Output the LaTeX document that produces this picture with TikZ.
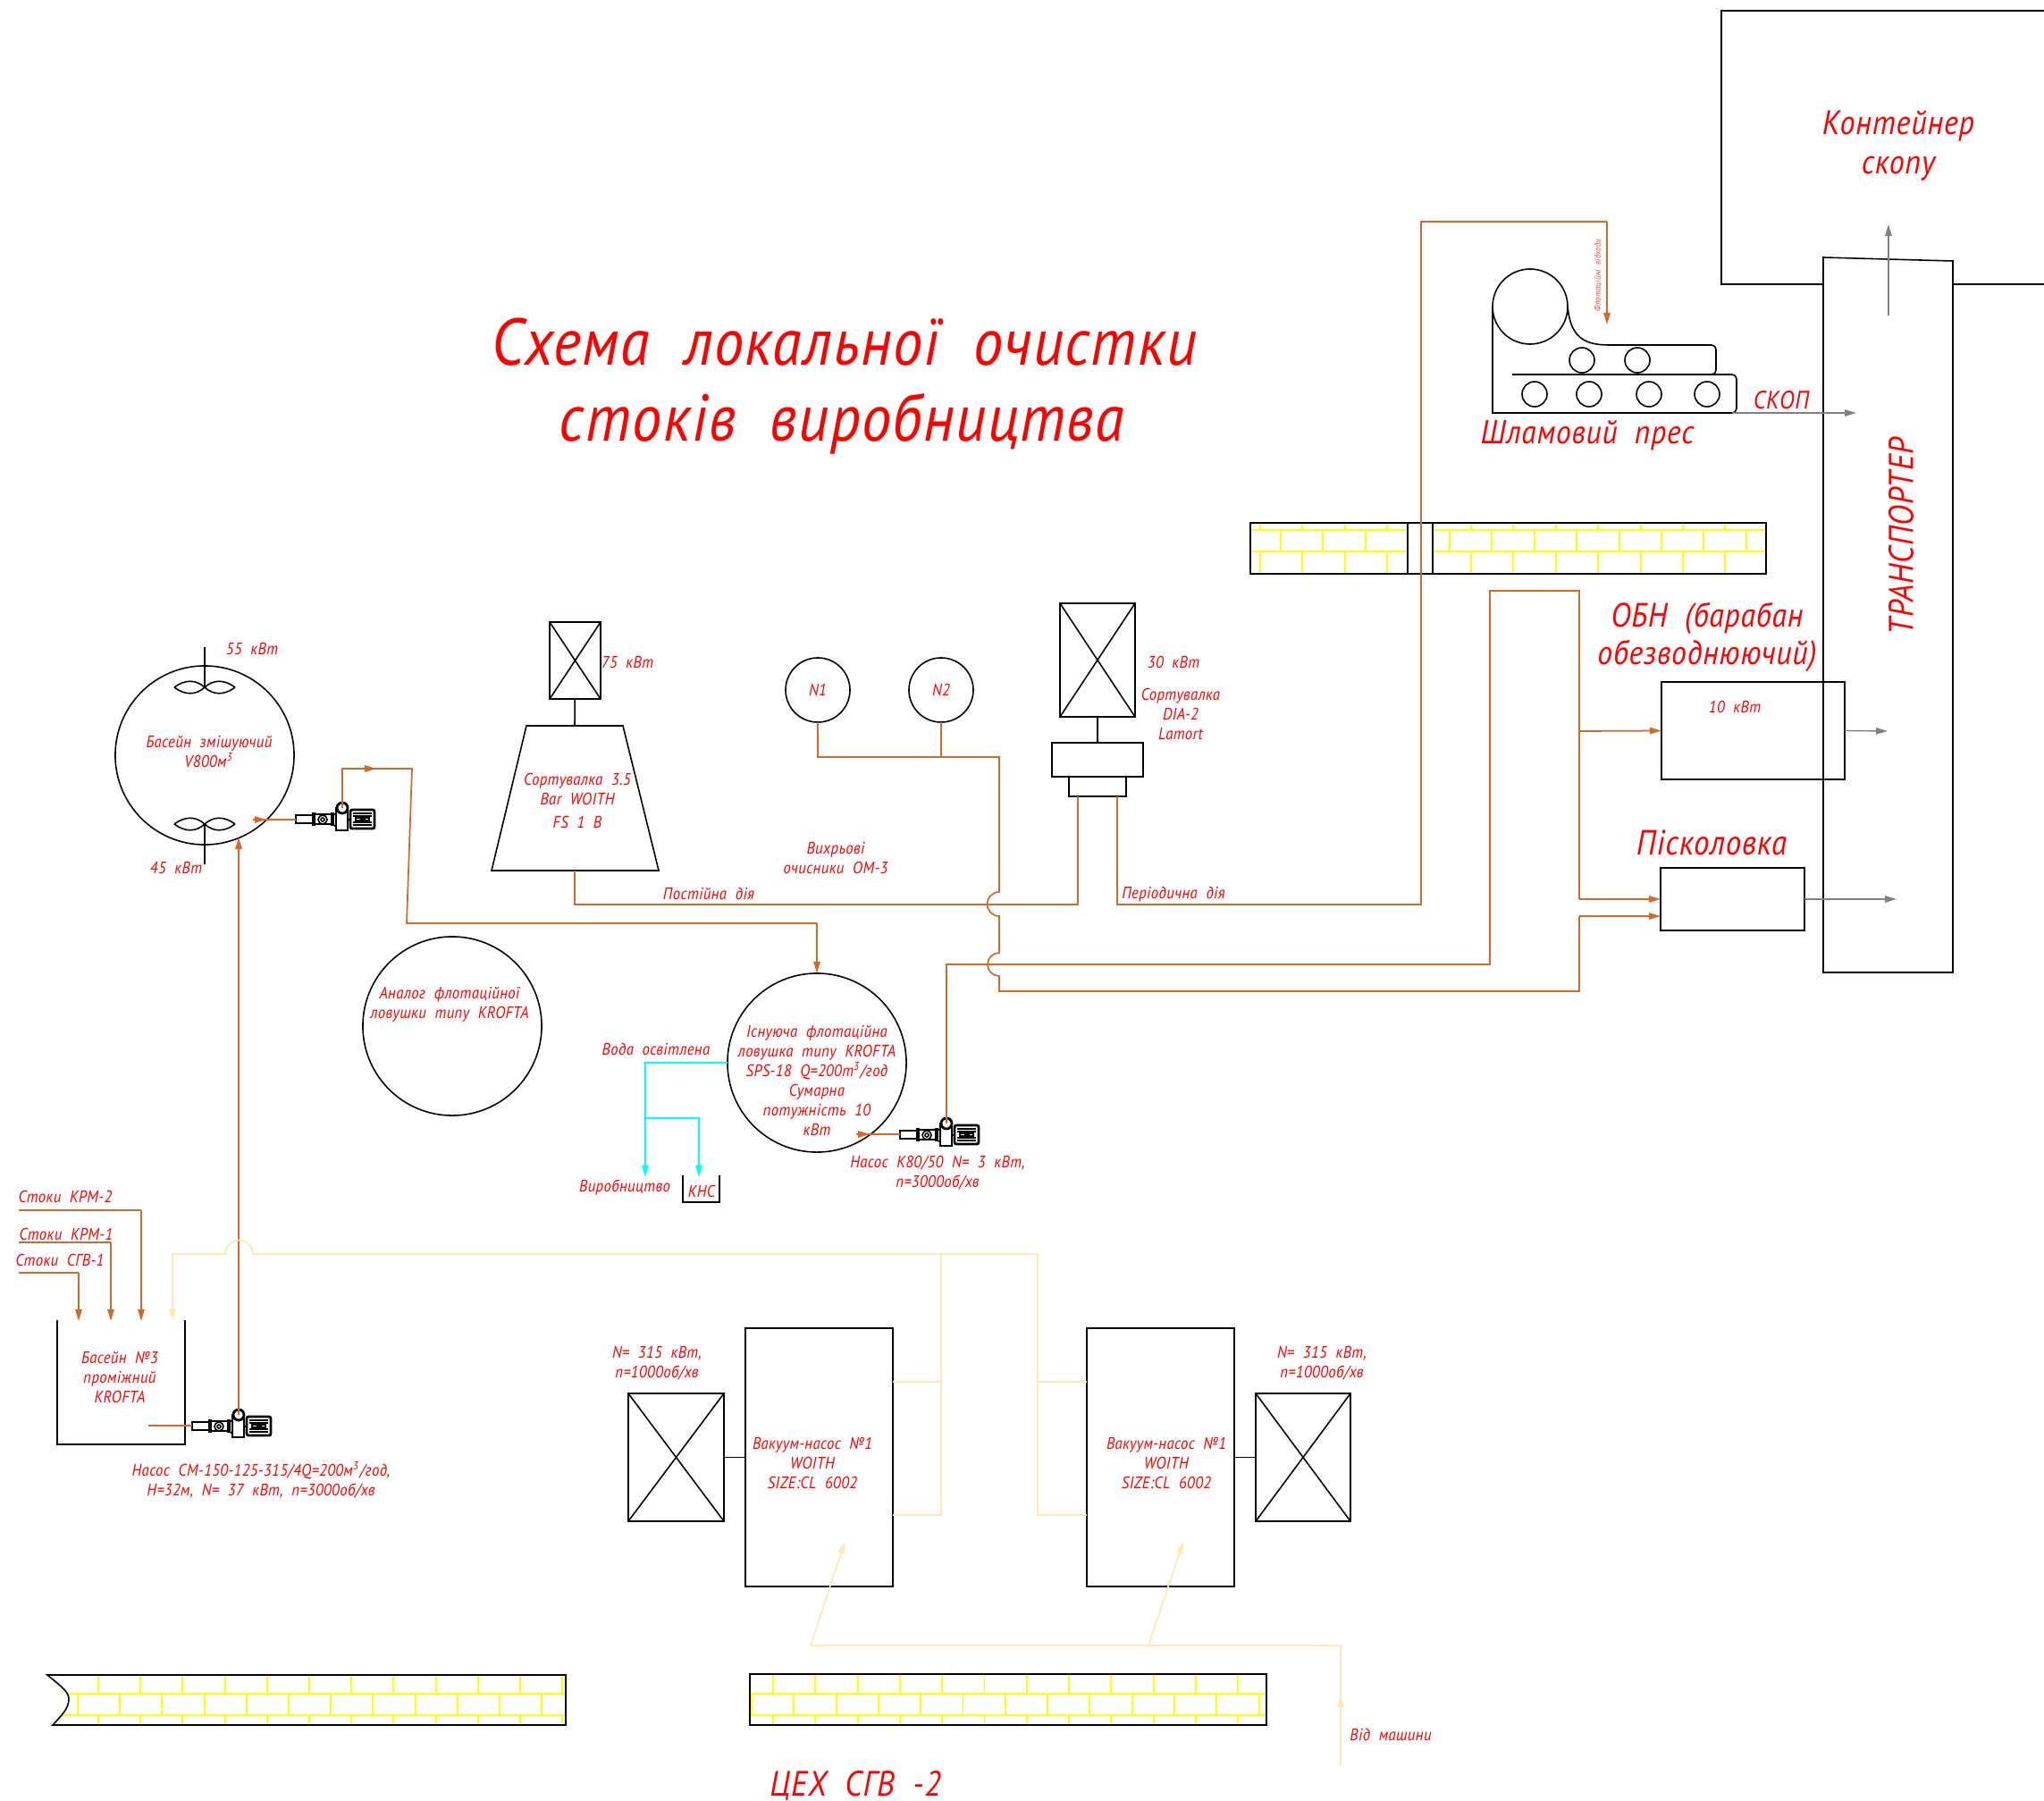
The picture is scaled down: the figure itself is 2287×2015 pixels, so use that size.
\documentclass[tikz,border=0pt]{standalone}
\usepackage{fontspec}
\setmainfont[LetterSpace=2,WordSpace=2,FakeStretch=.9]{PT Sans}
\usetikzlibrary{arrows.meta}
\definecolor{pipeor}{RGB}{210,105,45}
\definecolor{pipecr}{RGB}{255,232,180}
\definecolor{clearcy}{RGB}{0,255,255}
\definecolor{brickyl}{RGB}{255,255,0}
\tikzset{
	lbl/.style={text=red, inner sep=0pt, align=center, font=\itshape\fontsize{#1}{\the\dimexpr#1pt*118/100\relax}\selectfont},
	lbl/.default=5.3,
	blk/.style={line width=.45pt, draw=black},
	vessel/.style={blk, circle, inner sep=0pt, outer sep=0pt},
	unit/.style={blk, rectangle, inner sep=0pt, outer sep=0pt},
	pipe/.style={line width=.5pt, draw=pipeor},
	creamp/.style={line width=.5pt, draw=pipecr},
	clearw/.style={line width=.5pt, draw=clearcy},
	outp/.style={line width=.4pt, draw=gray},
	arr/.style={-{Triangle[length=3.7pt,width=2.1pt]}},
	brick/.style={line width=.55pt, draw=brickyl},
	pump/.pic={
		\draw[blk, fill=white] (-52,8) rectangle (-32,17);
		\draw[line width=.9pt] (-32,5) -- (-32,20) (-11,5) -- (-11,20);
		\draw[blk] (-32,7) rectangle (-11,18);
		\draw[blk] (-22,13) circle (5);
		\draw[blk] (-22,13) circle (2);
		\draw[blk] (-11,8) -- (-7,6) (-11,18) -- (-7,21);
		\draw[blk, fill=white] (-7,0) rectangle (6,25);
		\draw[line width=.8pt, fill=white] (0,0) circle (6);
		\draw[blk] (6,13) -- (9,13);
		\draw[line width=.8pt, rounded corners=.6pt] (9,2) rectangle (36,23);
		\foreach \ys in {6,9,16,19} \draw[blk] (12,\ys) -- (33,\ys);
		\draw[blk] (15,11) rectangle (30,14);
		\draw[fill=black] (21,11.5) rectangle (25,13.5);
	},
	paddle/.pic={
		\draw[blk] (-34,0) .. controls (-22,-9) and (-10,-9) .. (0,0) .. controls (-10,9) and (-22,9) .. (-34,0);
		\draw[blk] (34,0) .. controls (22,-9) and (10,-9) .. (0,0) .. controls (10,9) and (22,9) .. (34,0);
	},
}
\begin{document}
\begin{tikzpicture}[x=.01cm,y=-.01cm]
	\useasboundingbox (0,0) rectangle (2287,2015);
	%%%%% WALLS %%%%%
	\begin{scope}
		\clip (1399,585) rectangle (1575,642);
		\draw[brick] (1399,593) -- (1575,593) (1399,617) -- (1575,617);
		\foreach \xb in {0,...,3} {
			\draw[brick] ({1410+47.4*\xb},585) -- ++(0,8) ({1410+47.4*\xb},617) -- ++(0,25);
			\draw[brick] ({1433+47.4*\xb},593) -- ++(0,24);
		}
	\end{scope}
	\begin{scope}
		\clip (1603,585) rectangle (1976,642);
		\draw[brick] (1603,593) -- (1976,593) (1603,617) -- (1976,617);
		\foreach \xb in {0,...,7} {
			\draw[brick] ({1646+47.4*\xb},585) -- ++(0,8) ({1646+47.4*\xb},617) -- ++(0,25);
			\draw[brick] ({1622+47.4*\xb},593) -- ++(0,24);
		}
	\end{scope}
	\draw[blk] (1399,585) rectangle (1976,642);
	\draw[blk] (1575,585) -- (1575,642) (1603,585) -- (1603,642);
	\begin{scope}
		\clip (53,1874) .. controls (70,1888) and (77,1893) .. (77,1901) .. controls (77,1912) and (68,1920) .. (59,1930) -- (633,1930) -- (633,1874) -- cycle;
		\draw[brick] (53,1895) -- (633,1895) (53,1919) -- (633,1919);
		\foreach \xb in {0,...,11} {
			\draw[brick] ({110+47.2*\xb},1874) -- ++(0,21) ({110+47.2*\xb},1919) -- ++(0,11);
			\draw[brick] ({87+47.2*\xb},1895) -- ++(0,24);
		}
	\end{scope}
	\draw[blk] (53,1874) .. controls (70,1888) and (77,1893) .. (77,1901) .. controls (77,1912) and (68,1920) .. (59,1930) -- (633,1930) -- (633,1874) -- cycle;
	\begin{scope}
		\clip (839,1873) rectangle (1417,1930);
		\draw[brick] (839,1895) -- (1417,1895) (839,1919) -- (1417,1919);
		\foreach \xb in {0,...,12} {
			\draw[brick] ({865+47.3*\xb},1873) -- ++(0,22) ({865+47.3*\xb},1919) -- ++(0,11);
			\draw[brick] ({841+47.3*\xb},1895) -- ++(0,24);
		}
	\end{scope}
	\draw[blk] (839,1873) rectangle (1417,1930);
	%%%%% EQUIPMENT %%%%%
	\node[vessel, minimum size=2cm] (mixer) at (229,845) {};
	\node[vessel, minimum size=2cm] (flotA) at (506,1148) {};
	\node[vessel, minimum size=2cm] (flotB) at (914,1189) {};
	\node[vessel, minimum size=.72cm, lbl] (nOne) at (915,772) {N1};
	\node[vessel, minimum size=.72cm, lbl] (nTwo) at (1053,772) {N2};
	\node[unit, minimum width=1.65cm, minimum height=2.89cm] (vacA) at (916.5,1630.5) {};
	\node[unit, minimum width=1.65cm, minimum height=2.89cm] (vacB) at (1298.5,1630.5) {};
	\node[unit, minimum width=1.07cm, minimum height=1.43cm] (motA) at (756.5,1630.5) {};
	\node[unit, minimum width=1.06cm, minimum height=1.43cm] (motB) at (1458,1630.5) {};
	\node[unit, minimum width=.57cm, minimum height=.86cm] (driveA) at (643.5,739) {};
	\node[unit, minimum width=.84cm, minimum height=1.27cm] (driveB) at (1228,738.5) {};
	\node[unit, minimum width=1.02cm, minimum height=.38cm] (sortHead) at (1228,850) {};
	\node[unit, minimum width=.64cm, minimum height=.22cm] (sortBase) at (1228,880) {};
	\node[unit, minimum width=2.05cm, minimum height=1.09cm] (drum) at (1961.5,817.5) {};
	\node[unit, minimum width=1.61cm, minimum height=.70cm] (sand) at (1938.5,1006) {};
	\foreach \boxn in {motA,motB,driveA,driveB} {
		\draw[blk] (\boxn.north west) -- (\boxn.south east) (\boxn.north east) -- (\boxn.south west);
	}
	\draw[blk] (motA) -- (vacA);
	\draw[blk] (vacB) -- (motB);
	\draw[blk] (driveB) -- (sortHead);
	\coordinate (coneTop) at (643,812);
	\coordinate (coneBot) at (643,974);
	\draw[blk] (driveA) -- (coneTop);
	\draw[blk] (589,812) -- (697,812) -- (737,974) -- (550,974) -- cycle;
	% tank and pit
	\draw[blk] (64,1477) -- (64,1616) -- (207,1616) -- (207,1477);
	\draw[blk] (764,1315) -- (764,1345) -- (805,1345) -- (805,1315);
	% mixer shafts
	\draw[blk] (229,724) -- (229,769) (229,922) -- (229,967);
	\pic at (229,769) {paddle};
	\pic at (229,922) {paddle};
	% press
	\draw[blk] (1712,343) circle (42);
	\draw[blk] (1670,343) -- (1670,462) -- (1800,462);
	\draw[blk, rounded corners=1.4pt] (1800,462) -- (1943,462) -- (1943,419) -- (1692,419);
	\draw[blk] (1754,343) .. controls (1757,375) and (1770,386) .. (1800,386);
	\draw[blk, rounded corners=1.4pt] (1800,386) -- (1920,386) -- (1920,419) -- (1910,419);
	\foreach \xc in {1770,1832} \draw[blk] (\xc,403) circle (14);
	\foreach \xc in {1717,1778,1845,1910} \draw[blk] (\xc,441) circle (14);
	% container and transporter
	\draw[blk] (2287,12) -- (1926,12) -- (1926,318) -- (2040,318);
	\draw[blk] (2185,318) -- (2287,318);
	\draw[blk] (2040,288) -- (2185,292) -- (2185,1088) -- (2040,1088) -- cycle;
	%%%%% PUMPS %%%%%
	\coordinate (holeA) at (383,904);
	\coordinate (holeB) at (1059,1257);
	\coordinate (holeC) at (267,1583);
	\pic at (holeA) {pump};
	\pic at (holeB) {pump};
	\pic at (holeC) {pump};
	%%%%% PIPES %%%%%
	\draw[pipe] (283,917) -- (331,917);
	\draw[pipe, arr] (283,917) -- (298,917);
	\draw[pipe] (holeA) -- (383,860) -- (461,860) -- (455,1033) -- (914,1033);
	\draw[pipe, arr] (383,860) -- (421,860);
	\draw[pipe, arr] (914,1033) -- (flotB.north);
	\draw[pipe] (958,1269) -- (1007,1269);
	\draw[pipe, arr] (958,1269) -- (973,1269);
	\draw[pipe] (holeB) -- (1059,1079) -- (1667,1079) -- (1667,661) -- (1767,661) -- (1767,1006);
	\draw[pipe, arr] (1767,818) -- (drum.west);
	\draw[pipe, arr] (1767,1006) -- (sand.west);
	\draw[pipe] (nOne.south) -- (915,847) -- (1118,847) -- (1118,998)
		arc[start angle=-90, end angle=-270, radius=13.5] -- (1118,1066)
		arc[start angle=-90, end angle=-270, radius=13] -- (1118,1109) -- (1767,1109) -- (1767,1025);
	\draw[pipe, arr] (1767,1025) -- (1858,1025);
	\draw[pipe] (coneBot) -- (643,1012) -- (1206,1012) -- (1206,891);
	\draw[pipe] (1250,891) -- (1250,1012) -- (1590,1012) -- (1590,248) -- (1798,248);
	\draw[pipe, arr] (1798,248) -- (1798,363);
	\draw[pipe] (nTwo.south) -- (1053,847);
	\draw[pipe] (21,1424) -- (88,1424);
	\draw[pipe, arr] (88,1424) -- (88,1478);
	\draw[pipe] (21,1390) -- (124,1390);
	\draw[pipe, arr] (124,1390) -- (124,1478);
	\draw[pipe] (21,1354) -- (158,1354);
	\draw[pipe, arr] (158,1354) -- (158,1478);
	\draw[pipe] (166,1595) -- (215,1595);
	\coordinate (mixIn) at (267,937);
	\draw[pipe, arr] (holeC) -- (mixIn);
	% clarified water
	\coordinate (prodIn) at (722,1317);
	\coordinate (pitIn) at (782,1317);
	\draw[clearw, arr] (flotB.west) -- (722,1189) -- (prodIn);
	\draw[clearw, arr] (722,1251) -- (782,1251) -- (pitIn);
	% vacuum pump water
	\draw[creamp, arr] (1161,1403) -- (283,1403) arc[start angle=0, end angle=-180, radius=15.5] -- (193,1403) -- (193,1477);
	\draw[creamp] (vacB.west |- 0,1695) -- (1161,1695) -- (1161,1403);
	\draw[creamp] (vacB.west |- 0,1546) -- (1161,1546);
	\draw[creamp] (vacA.east |- 0,1695) -- (1053,1695) -- (1053,1403);
	\draw[creamp] (vacA.east |- 0,1546) -- (1053,1546);
	\draw[creamp, arr] (1500,1841) -- (907,1841) -- (945,1725);
	\draw[creamp, arr] (1285,1841) -- (1324,1725);
	\draw[creamp] (1500,1841) -- (1500,1975);
	\draw[creamp, arr] (1500,1975) -- (1500,1897);
	% product
	\draw[outp, arr] (1938,462) -- (2077,462);
	\draw[outp, arr] (drum.east) -- (2112,818);
	\draw[outp, arr] (sand.east) -- (2122,1006);
	\draw[outp, arr] (2113,353) -- (2113,251);
	%%%%% TEXT %%%%%
	\node[lbl=21] (titleA) at (945,383) {Схема локальної очистки};
	\node[lbl=21] (titleB) at (942,474) {стоків виробництва};
	\node[lbl=10.8] (contT) at (2124,163) {Контейнер\\скопу};
	\node[lbl=11, rotate=90] (transT) at (2127,600) {ТРАНСПОРТЕР};
	\node[lbl=10.7] (drumT) at (1910,713) {ОБН (барабан\\[-.7pt]обезводнюючий)};
	\node[lbl=11.1] (sandT) at (1915,943) {Пісколовка};
	\node[lbl=10.6] (pressT) at (1776,487) {Шламовий прес};
	\node[lbl=8] (scopT) at (1993,448) {СКОП};
	\node[lbl=2.8, rotate=90, opacity=.75] (wasteT) at (1788,308) {Флотаційні відходи};
	\node[lbl=11.2] (shopT) at (957,1998) {ЦЕХ СГВ -2};
	\node[lbl] (kwA) at (282,726) {55 кВт};
	\node[lbl] (mixT) at (234,841) {Басейн змішуючий\\V800м\textsuperscript{3}};
	\node[lbl] (kwB) at (197,971) {45 кВт};
	\node[lbl] (kwC) at (702,741) {75 кВт};
	\node[lbl] (sortA) at (646,896) {Сортувалка 3.5\\Bar WOITH\\[1pt]FS 1 B};
	\node[lbl] (lineA) at (793,1000) {Постійна дія};
	\node[lbl] (cycT) at (935,960) {Вихрьові\\очисники ОМ-3};
	\node[lbl] (kwD) at (1313,741) {30 кВт};
	\node[lbl] (sortB) at (1321,799) {Сортувалка\\DIA-2\\Lamort};
	\node[lbl] (lineB) at (1313,1001) {Періодична дія};
	\node[lbl] (kwE) at (1941,791) {10 кВт};
	\node[lbl] (flotAT) at (503,1124) {Аналог флотаційної\\ловушки типу KROFTA};
	\node[lbl] (flotBT) at (914,1209) {Існуюча флотаційна\\ловушка типу KROFTA\\SPS-18 Q=200m\textsuperscript{3}/год\\Сумарна\\потужність 10\\кВт};
	\node[lbl] (waterT) at (734,1174) {Вода освітлена};
	\node[lbl] (prodT) at (699,1329) {Виробництво};
	\node[lbl] (pitT) at (785,1333) {КНС};
	\node[lbl] (pumpBT) at (1049,1312) {Насос К80/50 N= 3 кВт,\\n=3000об/хв};
	\node[lbl] (srcA) at (73,1339) {Стоки КРМ-2};
	\node[lbl] (srcB) at (74,1381) {Стоки КРМ-1};
	\node[lbl] (srcC) at (67,1410) {Стоки СГВ-1};
	\node[lbl] (tankT) at (134,1541) {Басейн №3\\проміжний\\KROFTA};
	\node[lbl] (pumpCT) at (292,1656) {Насос СМ-150-125-315/4Q=200м\textsuperscript{3}/год,\\Н=32м, N= 37 кВт, n=3000об/хв};
	\node[lbl] (motAT) at (735,1525) {N= 315 кВт,\\n=1000об/хв};
	\node[lbl] (motBT) at (1479,1525) {N= 315 кВт,\\n=1000об/хв};
	\node[lbl] (vacAT) at (909,1637) {Вакуум-насос №1\\WOITH\\SIZE:CL 6002};
	\node[lbl] (vacBT) at (1305,1637) {Вакуум-насос №1\\WOITH\\SIZE:CL 6002};
	\node[lbl] (fromT) at (1556,1941) {Від машини};
\end{tikzpicture}
\end{document}
